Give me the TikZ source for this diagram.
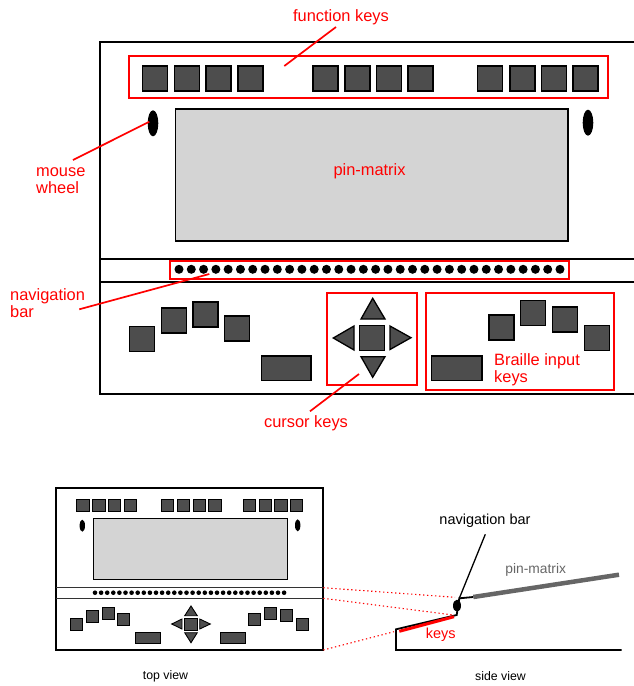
\documentclass[tikz,border=0pt]{standalone}
\usepackage{fontspec}
\setmainfont{Liberation Sans}
\usepackage{tikz}
\usetikzlibrary{calc,positioning}
\definecolor{keygray}{HTML}{4D4D4D}
\definecolor{pingray}{HTML}{D4D4D4}
\definecolor{sidegray}{HTML}{666666}
\tikzset{keybox/.style={draw=black,fill=keygray,line width=1.3pt},
  smallkey/.style={keybox,line width=0.9pt},
  redbox/.style={draw=red,line width=1.9pt},
  leader/.style={draw=red,line width=1.7pt},
  frameline/.style={line width=1.9pt},
  matrixbox/.style={draw=black,fill=pingray,line width=1.9pt},
  lbl/.style={text=red,inner sep=0pt,align=left,font=\fontsize{16.4}{16.8}\selectfont},
  sidelbl/.style={inner sep=0pt,font=\fontsize{14.5}{15}\selectfont},
  viewlbl/.style={inner sep=0pt,font=\fontsize{12.3}{13}\selectfont},
  proj/.style={draw=red,line width=1.1pt,dash pattern=on 1.3pt off 2.7pt}}
\begin{document}
\begin{tikzpicture}[x=1pt,y=-1pt]
\useasboundingbox (0,0) rectangle (634,686);
% large view
\draw[frameline] (640,42) -- (100,42) -- (100,394) -- (640,394);
\draw[frameline] (100,258.7) -- (640,258.7) (100,282) -- (640,282);
\draw[matrixbox] (175.5,108.7) rectangle (568,241);
\fill (153,123.3) ellipse (5.3 and 13);
\fill (588,122.7) ellipse (5.3 and 13);
\foreach \x in {142.3,174.7,206,238,313,345,376.7,408,477.7,510,541.7,573}
  \draw[keybox] (\x,66) rectangle ++(25,25);
\foreach \i in {0,...,31}
  \fill ({179+\i*12.29},269.3) circle (4.5);
\foreach \x/\y in {129.3/326.7,161.5/308,193/302,224.5/316,489/315,520.7/300.7,552.3/307,584.3/325.7}
  \draw[keybox] (\x,\y) rectangle ++(25,25);
\draw[keybox] (261.5,356) rectangle (311,380.5);
\draw[keybox] (431.3,356) rectangle (482,380.7);
\draw[keybox] (359.5,325.7) rectangle ++(25,25);
\draw[keybox] (372.7,298.3) -- (385,319) -- (361,319) -- cycle;
\draw[keybox] (372.7,377.3) -- (385,356.7) -- (361,356.7) -- cycle;
\draw[keybox] (333.3,338) -- (354,326) -- (354,350) -- cycle;
\draw[keybox] (411,337.7) -- (390,326) -- (390,349.5) -- cycle;
\draw[redbox] (128.7,56) rectangle (608,98.3);
\draw[redbox] (170,260.7) rectangle (569,279);
\draw[redbox] (327.3,292.7) rectangle (417.3,385);
\draw[redbox] (426,292.7) rectangle (614.3,389.7);
% labels
\node[lbl] (fnlabel) at (341,17) {function keys};
\node[lbl,anchor=west] (wheellabel) at (36,180.5) {mouse\\wheel};
\node[lbl] (pinlabel) at (369.5,171) {pin-matrix};
\node[lbl,anchor=west] (navlabel) at (10,303) {navigation\\bar};
\node[lbl] (cursorlabel) at (306,423) {cursor keys};
\node[lbl,anchor=west] (braillelabel) at (494,370) {Braille input\\keys};
\coordinate (fnstart) at (336,27);
\coordinate (fnend) at (284.3,66);
\coordinate (wheelstart) at (73,160);
\coordinate (wheelend) at (149.3,121.7);
\coordinate (navstart) at (79.3,309.3);
\coordinate (navend) at (209.3,274);
\coordinate (cursorstart) at (310,411.3);
\coordinate (cursorend) at (359,374);
\draw[leader] (fnstart) -- (fnend);
\draw[leader] (wheelstart) -- (wheelend);
\draw[leader] (navstart) -- (navend);
\draw[leader] (cursorstart) -- (cursorend);
% top view
\draw[frameline] (55.7,488.3) rectangle (323.3,650);
\draw[line width=1.2pt,black!80] (55.7,587.7) -- (323.3,587.7) (55.7,598.3) -- (323.3,598.3);
\draw[matrixbox,line width=1.1pt] (93.3,518.7) rectangle (287.7,579.3);
\fill (82.3,525.7) ellipse (2.7 and 6);
\fill (297.7,525.3) ellipse (2.7 and 6);
\foreach \x in {76.7,92.7,108.3,124,161.3,177,193,208.7,243.3,259,274.7,290.3}
  \draw[smallkey] (\x,499.3) rectangle ++(12.6,11.8);
\foreach \i in {0,...,31}
  \fill ({95+\i*6.1},592.7) circle (2.3);
\foreach \x/\y in {70.3/618.7,86.3/610.3,102/607,117.3/613.7,248.3/613.3,264.3/607,280/609.7,296/618.3,184.5/618}
  \draw[smallkey] (\x,\y) rectangle ++(12.6,12);
\draw[smallkey] (135.7,632.3) rectangle (160.7,643.7);
\draw[smallkey] (220.3,632.3) rectangle (245,643.7);
\draw[smallkey] (191,606) -- (197.3,615.7) -- (184.7,615.7) -- cycle;
\draw[smallkey] (191,642.7) -- (197.3,632.7) -- (184.7,632.7) -- cycle;
\draw[smallkey] (171.7,624) -- (182,619) -- (182,629) -- cycle;
\draw[smallkey] (210.3,624) -- (199.7,619) -- (199.7,629) -- cycle;
\node[viewlbl] (toplabel) at (165.5,676) {top view};
% side view
\draw[line width=1.8pt] (621.7,650) -- (396,650) -- (396,629.3) -- (456.7,615) -- (459.3,598.3) -- (473.3,597);
\draw[sidegray,line width=4.5pt] (473.3,597) -- (619,574.7);
\draw[red,line width=3pt] (399.3,631.3) -- (454,616.7);
\fill (457,605.7) ellipse (4 and 6);
\node[sidelbl] (sidenav) at (485,521) {navigation bar};
\node[sidelbl,text=sidegray,font=\fontsize{13.8}{14}\selectfont] (sidepin) at (535.7,570.3) {pin-matrix};
\node[sidelbl,text=red] (sidekeys) at (440.7,634.3) {keys};
\node[viewlbl] (sidelabel) at (500.5,676) {side view};
\coordinate (barstart) at (485.3,534.3);
\coordinate (barend) at (459.3,598.3);
\draw[line width=1.3pt] (barstart) -- (barend);
% projection lines
\coordinate (topa) at (323.3,587.7);
\coordinate (topb) at (323.3,598.3);
\coordinate (topc) at (323.3,650);
\coordinate (sidea) at (455,597.3);
\coordinate (sideb) at (453.3,615);
\coordinate (sidec) at (394,631.7);
\draw[proj] (topa) -- (sidea);
\draw[proj] (topb) -- (sideb);
\draw[proj] (topc) -- (sidec);
\end{tikzpicture}
\end{document}
